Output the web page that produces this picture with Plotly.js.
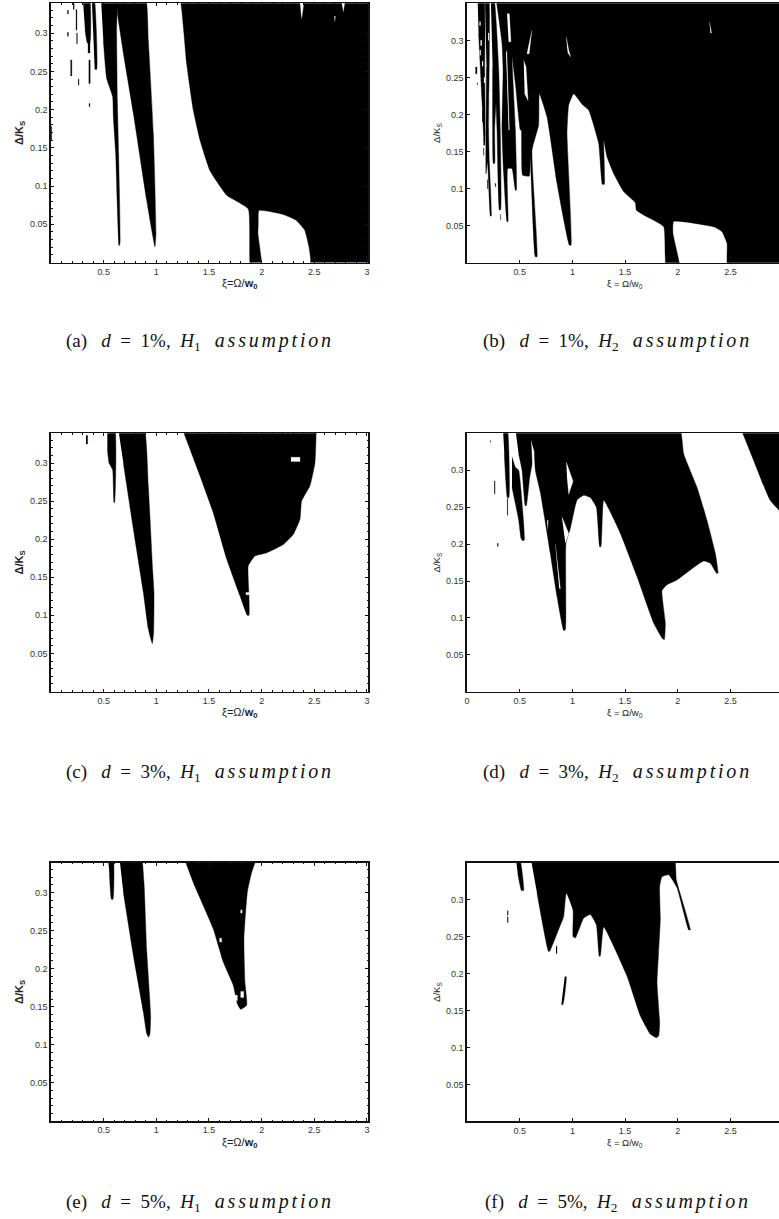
<!DOCTYPE html>
<html><head><meta charset="utf-8">
<script src="https://cdn.plot.ly/plotly-3.0.1.min.js"></script>
<style>html,body{margin:0;padding:0;background:#fff;overflow:hidden}</style></head>
<body><div id="chart"></div>
<script>
// Unstable regions: (xi, delta/Ks) outlines, null separates outlines.
const aBlackX=[1.225,1.245,1.262,1.288,1.35,1.415,1.51,1.668,1.873,1.897,2.0,1.965,1.968,1.975,2.2,2.33,2.41,2.45,2.465,2.47,3.05,3.05,2.44,2.38,2.33,1.21,null,
 .473,.617,.623,.63,.642,.655,.646,.614,.592,.585,.528,.497,null,
 .62,.892,.924,.972,.997,.987,.908,.782,.687,.63,null,
 .30,.364,.37,.345,.323,null,.386,.408,.434,.415];
const aBlackY=[.35,.325,.30,.26,.2,.16,.12,.088,.07,-.01,-.01,.038,.05,.068,.063,.055,.042,.02,.005,-.01,-.01,.36,.36,.318,.36,.36,null,
 .35,.35,.3,.2125,.143,.025,.022,.143,.19,.217,.241,.29,null,
 .35,.35,.291,.169,.038,.0205,.0816,.195,.2736,.326,null,
 .35,.35,.287,.287,.304,null,.35,.35,.2526,.2526];
const aBits=[[.185,.198,.244,.265],[.155,.165,.325,.33],[.155,.165,.296,.301],[.236,.246,.304,.331],[.242,.25,.286,.30],[.258,.266,.232,.24],[.35,.37,.274,.287],[.358,.372,.234,.265],[.36,.37,.204,.208],[.21,.22,.331,.34],[0,.006,.16,.178]];
const aWhiteX=[2.76,2.79,2.775,null,2.69,2.70,2.695];
const aWhiteY=[.34,.34,.328,null,.322,.322,.315];

const bBlackX=[3.1,3.1,2.478,2.467,2.419,2.34,1.96,1.954,2.02,1.893,1.866,1.708,1.607,1.597,1.486,1.391,1.328,1.297,1.303,1.284,1.249,1.154,1.091,1.012,.965,.949,.987,.971,.854,.759,.686,.68,.617,.664,.648,.60,.591,.528,.515,.506,.459,.427,.459,.468,.459,.427,.386,.389,.38,.348,.332,.342,.332,.272,null,
 .225,.253,.30,.316,.319,.308,.285,.275,.262,.262,.25,.243,.243,null,
 .17,.205,.212,.205,.212,.23,.222,.195,.18,.18,.185,null,
 .10,.158,.168,.172,.163,.158,.142,.126,.11];
const bBlackY=[.36,-.01,-.01,.026,.042,.0486,.0558,.0396,-.01,-.01,.0486,.062,.071,.081,.096,.1205,.143,.1655,.106,.106,.161,.206,.214,.228,.2127,.1745,.0238,.0238,.107,.197,.228,.186,.152,.008,.008,.143,.117,.118,.179,.179,.242,.278,.179,.098,.098,.127,.127,.0555,.0555,.12,.179,.26,.296,.36,null,
 .36,.36,.264,.179,.0712,.0712,.179,.215,.179,.134,.134,.179,.264,null,
 .36,.36,.287,.179,.136,.063,.063,.136,.12,.179,.264,null,
 .36,.36,.26,.17,.158,.17,.219,.264,.309];
const bBits=[[.08,.095,.255,.264],[.158,.168,.159,.168],[.265,.273,.103,.107],[.316,.32,.058,.065],[.142,.148,.19,.205],[.155,.16,.145,.155],[.095,.10,.24,.243],[.19,.196,.10,.112]];
const bWhiteX=[.38,.402,.417,.395,null,.538,.56,.579,.547,null,.617,.569,.591,null,.942,.965,.984,.958,.949,null,.37,.378,.402,.395,null,
 .118,.128,.128,.118,null,.128,.14,.14,.128,null,.143,.152,.152,.143,null,.12,.13,.13,.12,null,.16,.17,.17,.16,null,.2,.208,.208,.2,null,.21,.22,.22,.21,null,2.3,2.32,2.31];
const bWhiteY=[.336,.336,.298,.298,null,.273,.264,.219,.228,null,.314,.282,.282,null,.305,.287,.278,.283,.292,null,.285,.285,.179,.179,null,
 .325,.325,.32,.32,null,.30,.30,.293,.293,null,.272,.272,.265,.265,null,.287,.287,.28,.28,null,.25,.25,.243,.243,null,.31,.31,.30,.30,null,.23,.23,.222,.222,null,.325,.31,.31];

const cBlackX=[.535,.604,.604,.598,.585,.551,.535,null,
 .633,.877,.924,.965,.978,.975,.962,.924,.877,.782,.687,null,
 1.205,1.32,1.415,1.54,1.668,1.794,1.864,1.88,1.88,1.873,1.937,2.047,2.206,2.3,2.364,2.38,2.459,2.506,2.522];
const cBlackY=[.35,.35,.248,.248,.291,.30,.318,null,
 .35,.35,.27,.16,.13,.078,.063,.082,.13,.213,.30,null,
 .36,.318,.283,.235,.174,.1257,.1,.1,.1257,.165,.178,.182,.193,.206,.226,.25,.27,.30,.36];
const cBits=[[.332,.348,.325,.336]];
const cWhiteX=[2.278,2.364,2.364,2.278,null,1.85,1.882,1.882,1.85];
const cWhiteY=[.3075,.3075,.302,.302,null,.13,.13,.127,.127];

const dBlackX=[.34,.38,.398,.383,.354,null,
 .427,.49,.512,.528,.544,.528,.49,.459,.427,null,
 .57,2.01,2.056,2.182,2.277,2.356,2.381,2.365,2.309,2.245,2.119,1.992,1.897,1.85,1.882,1.872,1.85,1.771,1.613,1.455,1.297,1.271,1.259,1.227,1.17,1.107,1.044,.98,.939,.933,.917,.854,.79,.696,.648,.639,null,
 .455,.585,.617,.595,.563,.553,.522,.49,null,
 2.56,2.72,2.878,3.05,3.05];
const dBlackY=[.36,.36,.263,.263,.322,null,
 .277,.2325,.208,.2046,.2055,.246,.30,.304,.318,null,
 .36,.36,.322,.277,.232,.1875,.1605,.161,.174,.177,.165,.1515,.145,.137,.093,.0706,.0728,.093,.156,.2145,.2595,.1965,.1965,.25,.263,.266,.2595,.221,.201,.084,.083,.129,.1875,.27,.30,.3246,null,
 .36,.36,.309,.29,.252,.252,.30,.322,null,
 .37,.313,.259,.235,.37];
const dBits=[[.379,.386,.239,.262],[.259,.266,.268,.2855],[.287,.296,.197,.201],[.22,.226,.338,.34]];
const dWhiteX=[.942,1.006,.965,.949,null,.90,.965,.933,null,.838,.886,.875,null,.76,.77,.765];
const dWhiteY=[.311,.285,.2675,.291,null,.237,.2145,.201,null,.2,.14,.14,null,.232,.232,.22];

const eBlackX=[.538,.589,.589,.573,.554,null,
 .646,.851,.883,.908,.946,.94,.927,.908,.877,.782,.687,null,
 1.225,1.351,1.541,1.636,1.731,1.769,1.801,1.858,1.842,1.832,1.864,1.905,1.99];
const eBlackY=[.35,.35,.291,.291,.326,null,
 .35,.35,.313,.226,.139,.115,.11,.115,.143,.217,.30,null,
 .36,.313,.252,.2086,.178,.154,.1466,.152,.182,.239,.30,.326,.36];
const eBits=[];
const eWhiteX=[1.8,1.815,1.815,1.8,null,1.745,1.77,1.77,1.745,null,1.8,1.83,1.83,1.8,null,1.6,1.62,1.62,1.6];
const eWhiteY=[.277,.277,.273,.273,null,.165,.165,.158,.158,null,.17,.17,.162,.162,null,.24,.24,.235,.235];

const fBlackX=[.46,.495,.538,.516,.481,null,
 .60,1.96,1.986,2.119,2.103,1.992,1.913,1.85,1.828,1.834,1.818,1.803,1.828,1.818,1.796,1.739,1.645,1.518,1.297,1.265,1.255,1.227,1.17,1.107,1.028,1.006,1.006,.942,.917,.87,.784,.772,.664,null,
 .895,.911,.942,.927];
const fBlackY=[.36,.36,.3125,.3125,.336,null,
 .36,.36,.327,.259,.259,.316,.3336,.331,.318,.273,.228,.1875,.1335,.1155,.113,.118,.1425,.1965,.263,.2235,.2235,.266,.28,.275,.248,.25,.286,.309,.277,.26,.23,.23,.309,null,
 .158,.158,.1955,.1955];
const fBits=[[.382,.39,.269,.277],[.382,.39,.279,.285],[.845,.854,.227,.237]];
const fWhiteX=[],fWhiteY=[];

const xTickVals=[0.5,1,1.5,2,2.5,3];
const xTickText=['0.5','1','1.5','2','2.5','3'];
const dTickVals=[0,0.5,1,1.5,2,2.5];
const dTickText=['0','0.5','1','1.5','2','2.5'];
const yTickVals=[0.05,0.1,0.15,0.2,0.25,0.3];
const yTickText=['0.05','0.1','0.15','0.2','0.25','0.3'];
const sp='<span style="letter-spacing:2.8px;font-size:20px"><i>assumption</i></span>';
const captions=['(a)','(b)','(c)','(d)','(e)','(f)'];
const captionD=['1%','1%','3%','3%','5%','5%'];
const captionH=['1','2','1','2','1','2'];

const W=779,H=1219;
const panels=[
 {bx:aBlackX,by:aBlackY,bits:aBits,wx:aWhiteX,wy:aWhiteY,box:[51,368,3.3,262.5],xr:[0,3.01],yr:[0,.339],left:true,cx:200,cy:341},
 {bx:bBlackX,by:bBlackY,bits:bBits,wx:bWhiteX,wy:bWhiteY,box:[467,779,3.3,262.8],xr:[0,2.96],yr:[0,.35],left:false,cx:617.5,cy:341},
 {bx:cBlackX,by:cBlackY,bits:cBits,wx:cWhiteX,wy:cWhiteY,box:[51,368,433.3,691.5],xr:[0,3.01],yr:[0,.339],left:true,cx:200,cy:772},
 {bx:dBlackX,by:dBlackY,bits:dBits,wx:dWhiteX,wy:dWhiteY,box:[467,779,433.3,691.8],xr:[0,2.96],yr:[0,.35],left:false,cx:617.5,cy:772,zero:true},
 {bx:eBlackX,by:eBlackY,bits:eBits,wx:eWhiteX,wy:eWhiteY,box:[51,368,862.7,1121],xr:[0,3.01],yr:[0,.339],left:true,cx:200,cy:1202},
 {bx:fBlackX,by:fBlackY,bits:fBits,wx:fWhiteX,wy:fWhiteY,box:[467,779,862.7,1121.3],xr:[0,2.96],yr:[0,.35],left:false,cx:617.5,cy:1202}
];
const data=[],annotations=[];
const layout={width:W,height:H,margin:{l:0,r:0,t:0,b:0},paper_bgcolor:'#fff',plot_bgcolor:'#fff',showlegend:false};
const sans='Liberation Sans, Arial, sans-serif';
const tickFont={family:sans,size:9,color:'#333'};
panels.forEach((p,i)=>{
  const n=i+1,sx=n===1?'':n;
  const base={type:'scatter',mode:'lines',xaxis:'x'+sx,yaxis:'y'+sx,fill:'toself',hoverinfo:'skip'};
  data.push(Object.assign({},base,{x:p.bx,y:p.by,fillcolor:'#000',line:{color:'#000',width:0.4,shape:'spline',smoothing:0.4}}));
  if(p.bits.length){
    const X=[],Y=[];
    p.bits.forEach(b=>{X.push(b[0],b[1],b[1],b[0],null);Y.push(b[2],b[2],b[3],b[3],null);});
    data.push(Object.assign({},base,{x:X,y:Y,fillcolor:'#000',line:{color:'#000',width:0.3}}));
  }
  if(p.wx.length) data.push(Object.assign({},base,{x:p.wx,y:p.wy,fillcolor:'#fff',line:{color:'#fff',width:0.3}}));
  const b=p.box;
  const xa={anchor:'y'+sx,domain:[b[0]/W,b[1]/W],range:p.xr,showgrid:false,zeroline:false,tickmode:'array',
    tickvals:p.zero?dTickVals:xTickVals,ticktext:p.zero?dTickText:xTickText,ticks:'inside',ticklen:3,tickwidth:1,tickcolor:'#111',
    tickfont:tickFont,showline:true,linecolor:'#111',linewidth:1.6,mirror:p.left?'ticks':true};
  const ya={anchor:'x'+sx,domain:[(H-b[3])/H,(H-b[2])/H],range:p.yr,showgrid:false,zeroline:false,tickmode:'array',
    tickvals:yTickVals,ticktext:yTickText,ticks:'inside',ticklen:3,tickwidth:1,tickcolor:'#111',
    tickfont:tickFont,showline:true,linecolor:'#111',linewidth:1.6,mirror:p.left?'ticks':false,
    title:{text:p.left?'<b>Δ/K<sub>S</sub></b>':'Δ/K<sub>S</sub>',font:{family:sans,size:p.left?11:9.5,color:'#222'},standoff:4}};
  if(p.left){
    xa.minor={dtick:0.1,ticks:'inside',ticklen:1.5,tickcolor:'#111',showgrid:false};
    ya.minor={dtick:0.01,ticks:'inside',ticklen:1.5,tickcolor:'#111',showgrid:false};
  }
  layout['xaxis'+sx]=xa;layout['yaxis'+sx]=ya;
  annotations.push({xref:'paper',yref:'paper',x:(p.left?239:625)/W,y:(H-(b[3]+21.5))/H,xanchor:'center',yanchor:'middle',showarrow:false,
    text:p.left?'ξ=Ω/<b>w<sub>0</sub></b>':'ξ = Ω/w<sub>0</sub>',font:{family:sans,size:p.left?11:9.5,color:'#222'}});
  annotations.push({xref:'paper',yref:'paper',x:p.cx/W,y:(H-p.cy)/H,xanchor:'center',yanchor:'middle',showarrow:false,
    text:captions[i]+'\u00a0\u00a0 <i>d</i>\u00a0\u00a0=\u00a0\u00a0'+captionD[i]+',\u00a0\u00a0<i>H</i><sub>'+captionH[i]+'</sub>\u00a0\u00a0\u00a0'+sp,
    font:{family:'Liberation Serif, Times New Roman, serif',size:19,color:'#111'}});
});
layout.annotations=annotations;
Plotly.newPlot('chart',data,layout,{staticPlot:true,displayModeBar:false});
</script></body></html>
